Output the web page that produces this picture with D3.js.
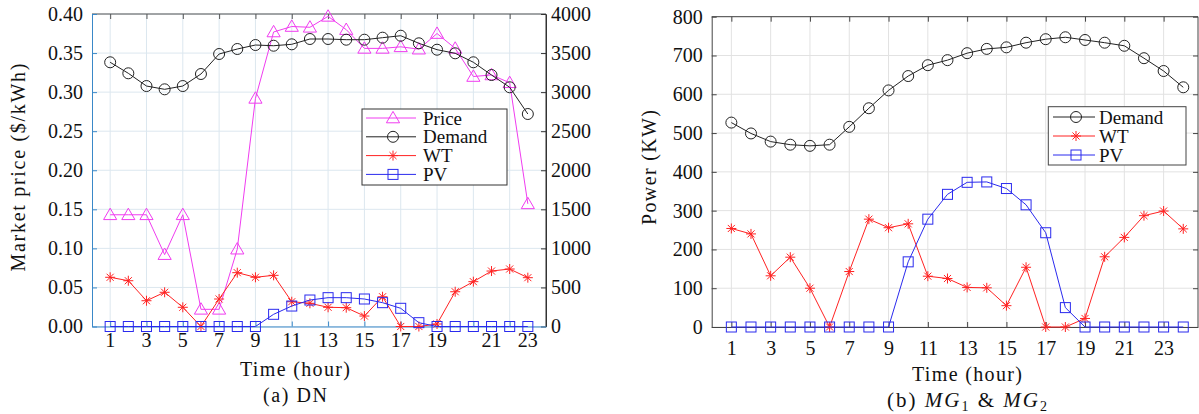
<!DOCTYPE html>
<html><head><meta charset="utf-8">
<script src="https://cdn.jsdelivr.net/npm/d3@7"></script>
<style>
body{margin:0;background:#fff;}
svg{display:block;font-family:"Liberation Serif","Times New Roman",serif;}
</style></head>
<body><svg id="c" width="1199" height="414"></svg>
<script>
const hours = d3.range(1, 25);
// (a) DN
const dnPrice = [0.143,0.143,0.143,0.092,0.143,0.022,0.022,0.099,0.292,0.377,0.384,0.383,0.397,0.380,0.356,0.356,0.358,0.355,0.375,0.356,0.320,0.322,0.312,0.157];
const dnDemand = [3382,3241,3078,3036,3078,3232,3488,3552,3603,3594,3612,3680,3680,3671,3671,3697,3722,3625,3543,3497,3382,3219,3062,2720];
const dnWT = [630,586,330,438,246,0,352,689,630,655,317,297,246,241,134,381,0,0,32,445,574,710,736,625];
const dnPV = [0,0,0,0,0,0,0,0,0,156,262,339,369,369,352,305,233,49,0,0,0,0,0,0];
const dnLeftTicks = [0,0.05,0.10,0.15,0.20,0.25,0.30,0.35,0.40];
const dnRightTicks = [0,500,1000,1500,2000,2500,3000,3500,4000];
const dnGridHours = [1,3,5,7,9,11,13,15,17,19,21,23];
const dnXTickHours = [1,3,5,7,9,11,13,15,17,19,22,24];
const dnXTickLabels = ["1","3","5","7","9","11","13","15","17","19","21","23"];
// (b) MG1 & MG2
const mgDemand = [527,499,478,470,467,470,516,564,610,647,675,688,706,717,721,733,742,747,740,733,725,693,660,618];
const mgWT = [254,240,132,180,100,0,143,278,256,266,131,125,102,101,55,154,0,0,22,181,231,287,299,253];
const mgPV = [0,0,0,0,0,0,0,0,0,168,278,342,373,374,357,315,243,50,0,0,0,0,0,0];
const mgYTicks = [0,100,200,300,400,500,600,700,800];
const mgXTicks = [1,3,5,7,9,11,13,15,17,19,21,23];

const C = {price:"#f03cf0", demand:"#222", wt:"#f22", pv:"#2a2aee"};
const FS = 20;
const svg = d3.select("#c");

function marker(g, type, x, y, color){
  if(type==="tri"){
    g.append("path").attr("d", d3.symbol(d3.symbolTriangle, 75)()).attr("transform",`translate(${x},${y+1})`)
      .attr("fill","none").attr("stroke",color).attr("stroke-width",1);
  } else if(type==="circ"){
    g.append("circle").attr("cx",x).attr("cy",y).attr("r",5.5).attr("fill","none").attr("stroke",color).attr("stroke-width",1);
  } else if(type==="sq"){
    g.append("rect").attr("x",x-5).attr("y",y-5).attr("width",10).attr("height",10).attr("fill","none").attr("stroke",color).attr("stroke-width",1);
  } else if(type==="star"){
    const r=5, d=r*0.7071;
    g.append("path").attr("d",`M${x-r},${y}L${x+r},${y}M${x},${y-r}L${x},${y+r}M${x-d},${y-d}L${x+d},${y+d}M${x-d},${y+d}L${x+d},${y-d}`)
      .attr("stroke",color).attr("stroke-width",1).attr("fill","none");
  }
}
function series(g, x, y, vals, color, type){
  const line = d3.line().x((d,i)=>x(hours[i])).y(d=>y(d));
  g.append("path").attr("d", line(vals)).attr("fill","none").attr("stroke",color).attr("stroke-width",1);
  vals.forEach((v,i)=>marker(g,type,x(hours[i]),y(v),color));
}
function styleText(a){ a.selectAll("text").attr("font-size",FS).attr("font-family","Liberation Serif").attr("fill","#111"); }
function title(g, attrs, txt, len){
  const t = g.append("text").attr("text-anchor","middle").attr("font-size",20).attr("fill","#111")
    .attr("textLength",len).attr("lengthAdjust","spacing").text(txt);
  Object.entries(attrs).forEach(([k,v])=>t.attr(k,v));
  return t;
}

// ---------- Chart (a) ----------
{
  const L=92, R=546, T=14, B=326.5;
  const x = d3.scaleLinear().domain([0,25]).range([L,R]);
  const yL = d3.scaleLinear().domain([0,0.4]).range([B,T]);
  const yR = d3.scaleLinear().domain([0,4000]).range([B,T]);
  const g = svg.append("g");
  const grid = "#dce7ef";
  dnGridHours.forEach(h=>g.append("line").attr("x1",x(h)).attr("x2",x(h)).attr("y1",T).attr("y2",B).attr("stroke",grid));
  dnLeftTicks.forEach(t=>g.append("line").attr("x1",L).attr("x2",R).attr("y1",yL(t)).attr("y2",yL(t)).attr("stroke",grid));
  g.append("line").attr("x1",L).attr("x2",R).attr("y1",T).attr("y2",T).attr("stroke","#555");
  g.append("line").attr("x1",R).attr("x2",R).attr("y1",T).attr("y2",B).attr("stroke","#333");
  const axL = d3.axisLeft(yL).tickValues(dnLeftTicks).tickFormat(d3.format(".2f")).tickSizeInner(-5).tickSizeOuter(0).tickPadding(9);
  const gl = g.append("g").attr("transform",`translate(${L},0)`).call(axL);
  gl.selectAll("path,line").attr("stroke","#3a88c8");
  const axR = d3.axisRight(yR).tickValues(dnRightTicks).tickFormat(d3.format("d")).tickSizeInner(-5).tickSizeOuter(0).tickPadding(5);
  const gr = g.append("g").attr("transform",`translate(${R},0)`).call(axR);
  gr.selectAll("path,line").attr("stroke","#333");
  const axB = d3.axisBottom(x).tickValues(dnGridHours).tickFormat("").tickSizeInner(-5).tickSizeOuter(0);
  const gb = g.append("g").attr("transform",`translate(0,${B})`).call(axB);
  gb.selectAll("path,line").attr("stroke","#3a88c8");
  const axT = d3.axisTop(x).tickValues(dnGridHours).tickFormat("").tickSizeInner(-5).tickSizeOuter(0);
  const gt = g.append("g").attr("transform",`translate(0,${T})`).call(axT);
  gt.selectAll("path").remove(); gt.selectAll("line").attr("stroke","#555");
  dnXTickHours.forEach((h,i)=>g.append("text").attr("x",x(h)).attr("y",347).attr("text-anchor","middle").attr("font-size",FS).attr("fill","#111").text(dnXTickLabels[i]));
  [gl,gr].forEach(styleText);
  series(g,x,yL,dnPrice,C.price,"tri");
  series(g,x,yR,dnDemand,C.demand,"circ");
  series(g,x,yR,dnWT,C.wt,"star");
  series(g,x,yR,dnPV,C.pv,"sq");
  title(g,{transform:"translate(25,167.5) rotate(-90)"},"Market price ($/kWh)",208);
  title(g,{x:295,y:376},"Time (hour)",110);
  title(g,{x:295,y:402},"(a) DN",64);
  const lg = g.append("g");
  lg.append("rect").attr("x",362).attr("y",109).attr("width",145).attr("height",76).attr("fill","#fff").attr("stroke","#333");
  const items=[["Price",C.price,"tri"],["Demand",C.demand,"circ"],["WT",C.wt,"star"],["PV",C.pv,"sq"]];
  items.forEach((it,i)=>{
    const yy=118+i*18.8;
    lg.append("line").attr("x1",366).attr("x2",416).attr("y1",yy).attr("y2",yy).attr("stroke",it[1]);
    marker(lg,it[2],393,yy,it[1]);
    lg.append("text").attr("x",423).attr("y",yy+6.5).attr("font-size",19).attr("fill","#111").text(it[0]);
  });
}

// ---------- Chart (b) ----------
{
  const L=711.7, R=1198, T=16.7, B=327;
  const x = d3.scaleLinear().domain([0,24.75]).range([L,R]);
  const y = d3.scaleLinear().domain([0,800]).range([B,T]);
  const g = svg.append("g");
  const grid = "#e2e2e2";
  mgXTicks.forEach(h=>g.append("line").attr("x1",x(h)).attr("x2",x(h)).attr("y1",T).attr("y2",B).attr("stroke",grid));
  mgYTicks.forEach(t=>g.append("line").attr("x1",L).attr("x2",R).attr("y1",y(t)).attr("y2",y(t)).attr("stroke",grid));
  g.append("line").attr("x1",L).attr("x2",R).attr("y1",T).attr("y2",T).attr("stroke","#444");
  g.append("line").attr("x1",R).attr("x2",R).attr("y1",T).attr("y2",B).attr("stroke","#444");
  const axL = d3.axisLeft(y).tickValues(mgYTicks).tickSizeInner(-5).tickSizeOuter(0).tickPadding(9);
  const gl = g.append("g").attr("transform",`translate(${L},0)`).call(axL);
  gl.selectAll("path,line").attr("stroke","#444");
  const axR = d3.axisRight(y).tickValues(mgYTicks).tickFormat("").tickSizeInner(-5).tickSizeOuter(0);
  const gr = g.append("g").attr("transform",`translate(${R},0)`).call(axR);
  gr.selectAll("path").remove(); gr.selectAll("line").attr("stroke","#444");
  const axB = d3.axisBottom(x).tickValues(mgXTicks).tickSizeInner(-5).tickSizeOuter(0).tickPadding(14);
  const gb = g.append("g").attr("transform",`translate(0,${B})`).call(axB);
  gb.selectAll("path,line").attr("stroke","#444");
  const axT = d3.axisTop(x).tickValues(mgXTicks).tickFormat("").tickSizeInner(-5).tickSizeOuter(0);
  const gt = g.append("g").attr("transform",`translate(0,${T})`).call(axT);
  gt.selectAll("path").remove(); gt.selectAll("line").attr("stroke","#444");
  [gl,gb].forEach(styleText);
  series(g,x,y,mgDemand,C.demand,"circ");
  series(g,x,y,mgWT,C.wt,"star");
  series(g,x,y,mgPV,C.pv,"sq");
  title(g,{transform:"translate(656,167.5) rotate(-90)"},"Power (KW)",115);
  title(g,{x:967,y:381},"Time (hour)",110);
  const cap = g.append("text").attr("x",967).attr("y",407).attr("text-anchor","middle").attr("font-size",21).attr("fill","#111")
    .attr("textLength",160).attr("lengthAdjust","spacing");
  cap.append("tspan").text("(b) ");
  cap.append("tspan").attr("font-style","italic").text("MG");
  cap.append("tspan").attr("font-size",14).attr("dy",4).text("1");
  cap.append("tspan").attr("dy",-4).text(" & ");
  cap.append("tspan").attr("font-style","italic").text("MG");
  cap.append("tspan").attr("font-size",14).attr("dy",4).text("2");
  const lg = g.append("g");
  lg.append("rect").attr("x",1048.3).attr("y",106.7).attr("width",137.7).attr("height",58.3).attr("fill","#fff").attr("stroke","#444");
  const items=[["Demand",C.demand,"circ"],["WT",C.wt,"star"],["PV",C.pv,"sq"]];
  items.forEach((it,i)=>{
    const yy=117+i*19;
    lg.append("line").attr("x1",1053).attr("x2",1095).attr("y1",yy).attr("y2",yy).attr("stroke",it[1]);
    marker(lg,it[2],1076,yy,it[1]);
    lg.append("text").attr("x",1099).attr("y",yy+6.5).attr("font-size",19).attr("fill","#111").text(it[0]);
  });
}
</script></body></html>
